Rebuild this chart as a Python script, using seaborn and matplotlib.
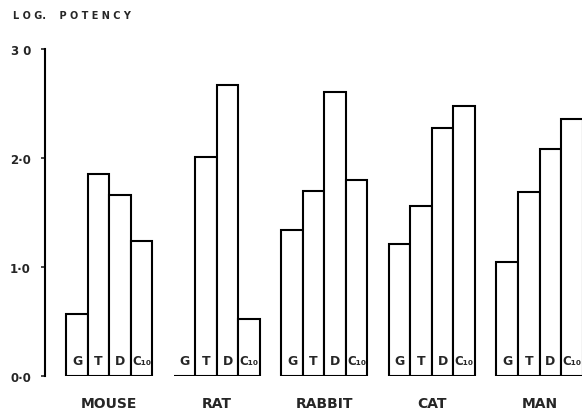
import pandas as pd
import matplotlib.pyplot as plt
import seaborn as sns

species = ["MOUSE", "RAT", "RABBIT", "CAT", "MAN"]
drugs = ["G", "T", "D", "C₁₀"]
# log potency, one list per species (order G, T, D, C10)
mouse = [0.57, 1.85, 1.66, 1.24]
rat = [0.0, 2.01, 2.67, 0.52]
rabbit = [1.34, 1.70, 2.61, 1.80]
cat = [1.21, 1.56, 2.28, 2.48]
man = [1.05, 1.69, 2.08, 2.36]
ytick_vals = [0.0, 1.0, 2.0, 3.0]
ytick_labels = ["0·0", "1·0", "2·0", "3 0"]

rows = []
for sp, vals in zip(species, [mouse, rat, rabbit, cat, man]):
    for d, v in zip(drugs, vals):
        rows.append({"species": sp, "drug": d, "potency": v})
df = pd.DataFrame(rows)

sns.set_style("white")
plt.rcParams['font.family'] = ['DejaVu Sans']

fig = plt.figure(figsize=(5.82, 4.14), dpi=100)
ax = fig.add_axes([0.077, 0.089, 0.935, 0.79])

sns.barplot(data=df, x="species", y="potency", hue="drug",
            palette=["white"] * 4, edgecolor="black", linewidth=1.5,
            width=0.8, legend=False, ax=ax)

# letters inside the bars
for cont, d in zip(ax.containers, drugs):
    for bar in cont:
        ax.text(bar.get_x() + bar.get_width() / 2, 0.08, d,
                ha="center", va="bottom", fontweight="bold",
                fontsize=8.5 if len(d) > 1 else 9)

ax.set_xlim(-0.6, 4.46)
ax.set_ylim(0, 3.0)
ax.set_yticks(ytick_vals)
ax.set_yticklabels(ytick_labels, fontsize=8.5, fontweight="bold")
ax.tick_params(axis="y", length=3, width=1.2, pad=7, left=True)
ax.tick_params(axis="x", length=0, pad=14, labelsize=10)
for lab in ax.get_xticklabels():
    lab.set_fontweight("bold")
ax.set_xlabel("")
ax.set_ylabel("")

sns.despine(ax=ax, top=True, right=True, bottom=True)
ax.spines["left"].set_linewidth(1.5)
ax.spines["left"].set_color("black")

fig.text(0.022, 0.955, "L O G.    P O T E N C Y", fontsize=7, fontweight="bold")

fig.savefig("out.png", dpi=100)
